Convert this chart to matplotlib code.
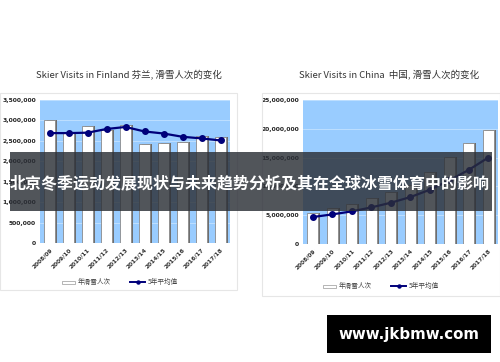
import matplotlib
matplotlib.use("Agg")
import matplotlib.pyplot as plt
from matplotlib.patches import Rectangle
from matplotlib.lines import Line2D
from matplotlib.ticker import FuncFormatter

plt.rcParams['font.family'] = ['Noto Sans CJK SC', 'DejaVu Sans']

W, H = 500, 362

seasons = ['2008/09', '2009/10', '2010/11', '2011/12', '2012/13',
           '2013/14', '2014/15', '2015/16', '2016/17', '2017/18']
fin_visits = [3000000, 2700000, 2860000, 2770000, 2890000,
              2430000, 2450000, 2470000, 2620000, 2590000]
fin_avg = [2690000, 2690000, 2700000, 2790000, 2840000,
           2730000, 2680000, 2600000, 2560000, 2510000]
chn_visits = [5370000, 6180000, 6870000, 7910000, 9000000,
              10300000, 12470000, 15070000, 17500000, 19750000]
chn_avg = [4680000, 5140000, 5660000, 6350000, 7160000,
           8140000, 9410000, 11030000, 12870000, 15000000]

fin_ticks = [0, 500000, 1000000, 1500000, 2000000, 2500000, 3000000, 3500000]
chn_ticks = [0, 5000000, 10000000, 15000000, 20000000, 25000000]

fin_title = 'Skier Visits in Finland 芬兰, 滑雪人次的变化'
chn_title = 'Skier Visits in China  中国, 滑雪人次的变化'
legend_bar = '年滑雪人次'
legend_line = '5年平均值'
banner = '北京冬季运动发展现状与未来趋势分析及其在全球冰雪体育中的影响'
site = 'www.jkbmw.com'


def box(x0, y0, x1, y1):
    return [x0 / W, 1 - y1 / H, (x1 - x0) / W, (y1 - y0) / H]


def fx(x):
    return x / W


def fy(y):
    return 1 - y / H


fig = plt.figure(figsize=(W / 100, H / 100), dpi=100)
fig.patch.set_facecolor('white')


def chart(area, frame, visits, avg, ticks, title, title_xy, leg_x, leg_y):
    # chart frame
    fig.add_artist(Rectangle((fx(frame[0]), fy(frame[3])),
                             fx(frame[2] - frame[0]), (frame[3] - frame[1]) / H,
                             transform=fig.transFigure, fill=False,
                             edgecolor='#e6e6e6', lw=0.8))
    ax = fig.add_axes(box(*area))
    ax.set_facecolor('#99ccff')
    x = list(range(len(seasons)))
    ax.bar([i + 0.12 for i in x], visits, width=0.55, color='#6e6e6e', zorder=2)
    ax.bar(x, visits, width=0.55, color='white', edgecolor='#8a8a8a', lw=0.6, zorder=3)
    ax.plot(x, avg, color='#00007a', lw=1.6, marker='o', markersize=4, zorder=4)
    ax.set_xlim(-0.5, len(seasons) - 0.5)
    ax.set_ylim(0, ticks[-1])
    ax.set_yticks(ticks)
    ax.yaxis.set_major_formatter(FuncFormatter(lambda v, p: '{:,.0f}'.format(v)))
    ax.grid(axis='y', color='#c4e2ff', lw=0.6, zorder=1)
    ax.set_axisbelow(True)
    for s in ax.spines.values():
        s.set_visible(False)
    ax.tick_params(length=0, pad=3)
    ax.set_xticks(x)
    ax.set_xticklabels(seasons, rotation=45, ha='right', rotation_mode='anchor',
                       fontsize=4.2, fontweight='bold', color='#333333',
                       family='DejaVu Sans')
    for lab in ax.get_yticklabels():
        lab.set_fontsize(4.3)
        lab.set_fontweight('bold')
        lab.set_family('DejaVu Sans')
        lab.set_color('#222222')
    fig.text(fx(title_xy[0]), fy(title_xy[1]), title, ha='center', va='center',
             fontsize=6.8, color='#333333')
    # legend
    fig.add_artist(Rectangle((fx(leg_x), fy(leg_y + 2)), fx(13), 3 / H,
                             transform=fig.transFigure, facecolor='white',
                             edgecolor='#999999', lw=0.5))
    fig.text(fx(leg_x + 16), fy(leg_y), legend_bar, ha='left', va='center',
             fontsize=4.8, color='#444444')
    lx = leg_x + 68
    fig.add_artist(Line2D([fx(lx), fx(lx + 15)], [fy(leg_y), fy(leg_y)],
                          transform=fig.transFigure, color='#00007a', lw=1.4))
    fig.add_artist(Line2D([fx(lx + 7.5)], [fy(leg_y)], transform=fig.transFigure,
                          marker='o', markersize=2.2, color='#00007a'))
    fig.text(fx(lx + 18), fy(leg_y), legend_line, ha='left', va='center',
             fontsize=4.8, color='#444444')
    return ax


chart((40, 100, 230, 243), (0, 93, 237, 290), fin_visits, fin_avg, fin_ticks,
      fin_title, (129, 74), 62, 282)
chart((303, 100, 498, 244), (262, 93, 500, 296), chn_visits, chn_avg, chn_ticks,
      chn_title, (389, 74), 323, 286)

# overlay banner
fig.add_artist(Rectangle((fx(10), fy(211)), fx(482), 59 / H,
                         transform=fig.transFigure, facecolor='#2b2f36',
                         alpha=0.82, edgecolor='none', zorder=10))
fig.text(fx(250), fy(183), banner, ha='center', va='center', fontsize=11.5,
         fontweight='bold', color='white', zorder=11)

# watermark
fig.add_artist(Rectangle((fx(327), fy(353)), fx(164), 38 / H,
                         transform=fig.transFigure, facecolor='black',
                         edgecolor='none', zorder=10))
fig.text(fx(409), fy(334), site, ha='center', va='center', fontsize=10.8,
         fontweight='bold', color='white', family='DejaVu Sans', zorder=11)

fig.savefig('out.png', dpi=100)
